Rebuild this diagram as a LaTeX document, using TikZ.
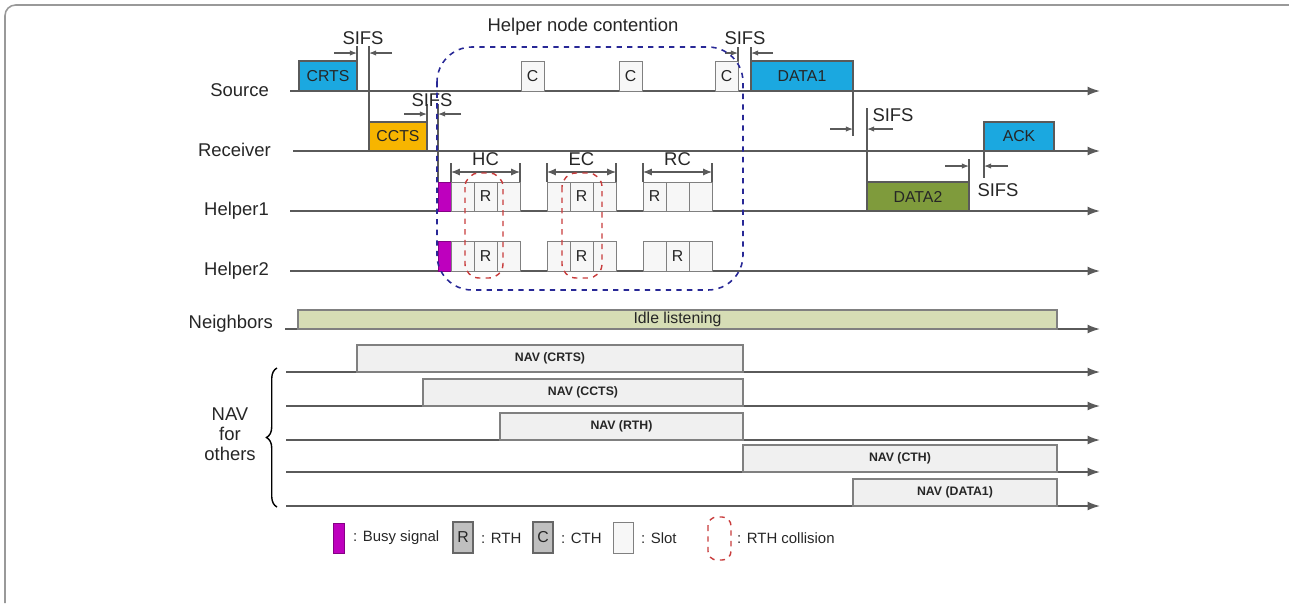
\documentclass[tikz,border=0pt]{standalone}
\usepackage{fontspec}
\setmainfont{Liberation Sans}
\usepackage{xcolor}
\usetikzlibrary{arrows.meta}
\usetikzlibrary{decorations.pathreplacing}

\definecolor{pktblue}{RGB}{27,168,224}
\definecolor{ctsorange}{RGB}{247,181,0}
\definecolor{dataolive}{RGB}{127,155,60}
\definecolor{busypurple}{RGB}{190,0,190}
\definecolor{idlegreen}{RGB}{214,221,181}
\definecolor{navgray}{RGB}{240,240,240}
\definecolor{linegray}{RGB}{90,90,90}
\definecolor{contblue}{RGB}{40,40,150}
\definecolor{collred}{RGB}{200,60,60}

\begin{document}
\begin{tikzpicture}[x=0.02cm,y=-0.02cm,
  font=\fontsize{10.5}{11.3}\selectfont, text=black!85,
  tline/.style={draw=linegray,line width=0.9pt,-{Latex[length=7pt,width=5pt]}},
  sifsarr/.style={draw=linegray,line width=0.6pt,-{Latex[length=4pt,width=3pt]}},
  edgeline/.style={draw=linegray,line width=0.6pt},
  pkt/.style={draw=linegray,line width=0.6pt},
  pktlabel/.style={font=\fontsize{9}{10}\selectfont},
  slotbox/.style={draw=gray,line width=0.5pt,fill=black!3},
  navbox/.style={draw=gray,line width=0.6pt,fill=navgray},
  navlabel/.style={font=\bfseries\fontsize{7}{8}\selectfont},
  rowlabel/.style={anchor=east},
  legendtext/.style={anchor=west,font=\fontsize{8.5}{9}\selectfont},
  busy/.style={draw=busypurple!70!black,line width=0.5pt,fill=busypurple},
  collision/.style={draw=collred,dashed,line width=0.8pt}]
\useasboundingbox (0,0) rectangle (1289,603);
\draw[gray!80,line width=0.9pt,rounded corners=6pt] (5,603) -- (5,5) -- (1289,5);

% time lines
\foreach \yy/\xs in {91/290,151/293,211/290,271/290,329/285,372/286,406/286,440/286,472/286,506/286}
  \draw[tline] (\xs,\yy) -- (1100,\yy);

\node[rowlabel] (lsrc) at (275,90) {Source};
\node[rowlabel] (lrcv) at (277,150) {Receiver};
\node[rowlabel] (lh1) at (275,211) {Helper1};
\node[rowlabel] (lh2) at (275,271) {Helper2};
\node[rowlabel] (lnb) at (279,324) {Neighbors};

% source / receiver
\draw[pkt,fill=pktblue] (299,61) rectangle (357,91) node[midway,pktlabel] (crts) {CRTS};
\draw[edgeline] (357,61) -- (357,46);
\draw[edgeline] (369,46) -- (369,122);
\draw[sifsarr] (334,53) -- (357,53);
\draw[sifsarr] (392,53) -- (369,53);
\node (sifsa) at (363,38) {SIFS};

\draw[pkt,fill=ctsorange] (369,122) rectangle (427,151) node[midway,pktlabel] (ccts) {CCTS};
\draw[edgeline] (427,122) -- (427,104);
\draw[edgeline] (438,104) -- (438,182);
\draw[sifsarr] (404,114) -- (427,114);
\draw[sifsarr] (461,114) -- (438,114);
\node (sifsb) at (432,100) {SIFS};

\foreach \cx [count=\i] in {521,619,715}
  \draw[slotbox] (\cx,61) rectangle ++(23,30) node[midway,pktlabel] (c\i) {C};

\draw[edgeline] (738,61) -- (738,47);
\draw[edgeline] (751,61) -- (751,47);
\draw[sifsarr] (725,53) -- (738,53);
\draw[sifsarr] (773,53) -- (751,53);
\node (sifsc) at (745,38) {SIFS};

\draw[pkt,fill=pktblue] (751,61) rectangle (853,91) node[midway,pktlabel] (data1) {DATA1};
\draw[edgeline] (853,91) -- (853,136);
\draw[edgeline] (867,108) -- (867,182);
\draw[sifsarr] (830,129) -- (853,129);
\draw[sifsarr] (893,129) -- (867,129);
\node (sifsd) at (893,115) {SIFS};

\draw[pkt,fill=dataolive] (867,182) rectangle (969,211) node[midway,pktlabel] (data2) {DATA2};
\draw[pkt,fill=pktblue] (984,122) rectangle (1054,151) node[midway,pktlabel] (ack) {ACK};
\draw[edgeline] (969,182) -- (969,159);
\draw[edgeline] (984,151) -- (984,178);
\draw[sifsarr] (945,166) -- (969,166);
\draw[sifsarr] (1008,166) -- (984,166);
\node (sifse) at (998,190) {SIFS};

% helpers
\draw[busy] (438,182) rectangle (451,211);
\draw[busy] (438,241) rectangle (451,271);
\foreach \gx in {451,547,643}
  \foreach \s in {0,1,2} {
    \draw[slotbox] (\gx+23*\s,182) rectangle ++(23,29);
    \draw[slotbox] (\gx+23*\s,241) rectangle ++(23,30);
  }
\foreach \rx/\ry [count=\i] in {485.5/196.5,581.5/196.5,654.5/196.5,485.5/256,581.5/256,677.5/256}
  \node[pktlabel] (r\i) at (\rx,\ry) {R};

\foreach \gx/\lab in {451/HC,547/EC,643/RC} {
  \draw[edgeline] (\gx,163) -- (\gx,182);
  \draw[edgeline] (\gx+69,163) -- (\gx+69,182);
  \draw[edgeline,{Latex[length=5pt,width=4pt]}-{Latex[length=5pt,width=4pt]}] (\gx,172) -- (\gx+69,172);
  \node (\lab) at (\gx+34.5,159) {\lab};
}

\draw[collision,rounded corners=8pt] (465,173) rectangle (503,278);
\draw[collision,rounded corners=8pt] (562,173) rectangle (602,278);

\draw[contblue,dashed,line width=0.9pt,rounded corners=20pt] (437,47) rectangle (743,290);
\node (hnc) at (583,27) {Helper node contention};

% neighbors and NAV
\draw[draw=gray,line width=0.6pt,fill=idlegreen] (298,310) rectangle (1057,329) node[midway,pktlabel] (idle) {Idle listening};

\foreach \xa/\xb/\yb/\lab [count=\i] in {357/743/372/CRTS,423/743/406/CCTS,500/743/440/RTH,743/1057/472/CTH,853/1057/506/DATA1}
  \draw[navbox] (\xa,\yb-27) rectangle (\xb,\yb) node[midway,navlabel] (nav\i) {NAV (\lab)};

\draw[decorate,decoration={brace,amplitude=6pt},line width=0.8pt] (277,507) -- (277,368);
\node[align=center] (navoth) at (230,434) {NAV\\for\\others};

% legend
\draw[busy] (333,523) rectangle (344,553);
\node[legendtext] (lgbusy) at (347,538) {: Busy signal};
\draw[draw=gray!80!black,line width=0.6pt,fill=black!25] (453,522) rectangle (473,553) node[midway,pktlabel] (lgr) {R};
\node[legendtext] (lgrth) at (475,538) {: RTH};
\draw[draw=gray!80!black,line width=0.6pt,fill=black!25] (533,522) rectangle (553,553) node[midway,pktlabel] (lgc) {C};
\node[legendtext] (lgcth) at (555,538) {: CTH};
\draw[slotbox] (613,522) rectangle (633,553);
\node[legendtext] (lgslot) at (635,538) {: Slot};
\draw[collision,rounded corners=5pt] (708,517) rectangle (731,560);
\node[legendtext] (lgcoll) at (731,538) {: RTH collision};
\end{tikzpicture}
\end{document}
